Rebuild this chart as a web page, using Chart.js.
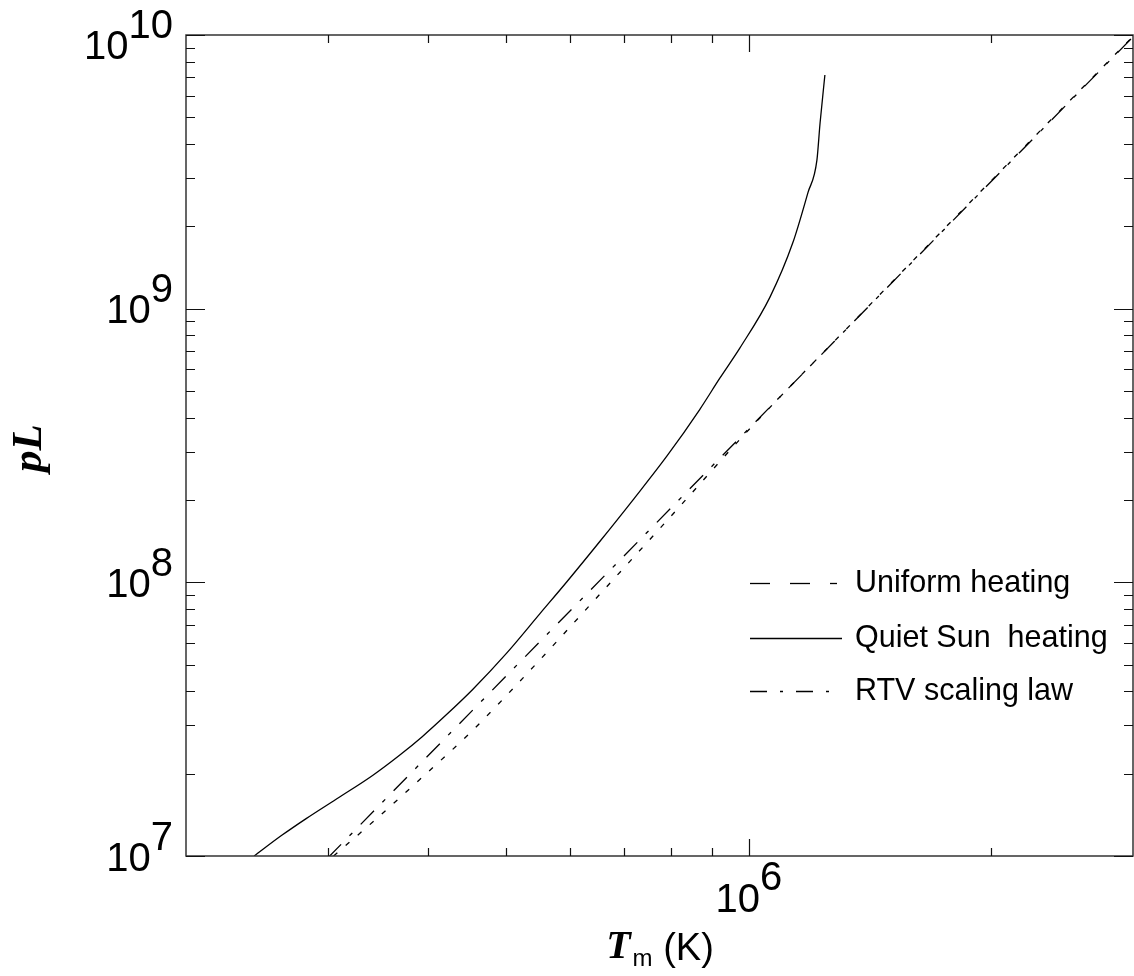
<!DOCTYPE html>
<html>
<head>
<meta charset="utf-8">
<script src="https://cdn.jsdelivr.net/npm/chart.js@4"></script>
<style>
  html, body { margin: 0; padding: 0; background: #fff; }
  canvas { display: block; }
</style>
</head>
<body>
<canvas id="loopChart" width="1134" height="976"></canvas>
<script>
// temperature (K) and pL
const quietT  = [2.43e5, 2.63e5, 2.82e5, 3.10e5, 3.41e5, 3.68e5, 3.93e5, 4.21e5, 4.54e5, 5.00e5, 5.50e5, 5.94e5,
                 6.53e5, 7.17e5, 7.91e5, 8.69e5, 9.20e5, 9.75e5, 1.062e6, 1.134e6, 1.184e6, 1.215e6, 1.226e6, 1.243e6];
const quietPL = [1.0e7, 1.19e7, 1.37e7, 1.64e7, 1.97e7, 2.33e7, 2.73e7, 3.28e7, 4.06e7, 5.50e7, 7.67e7, 1.003e8,
                 1.41e8, 1.99e8, 2.89e8, 4.28e8, 5.56e8, 7.19e8, 1.10e9, 1.74e9, 2.65e9, 3.49e9, 4.77e9, 7.14e9];

const uniformT  = [3.05e5, 3.45e5, 3.90e5, 4.54e5, 5.40e5, 6.53e5, 8.04e5, 1.0e6, 1.335e6, 2.05e6, 3.0e6];
const uniformPL = [1.0e7, 1.37e7, 1.90e7, 2.88e7, 4.91e7, 9.04e7, 1.77e8, 3.61e8, 8.69e8, 3.16e9, 9.89e9];

const rtvT  = [3.0e5, 3.0e6];
const rtvPL = [9.84e6, 9.84e9];

const legendLabels = ['Uniform heating', 'Quiet Sun  heating', 'RTV scaling law'];

const xMajorTicks = [1e6];
const xMajorExps = ['6'];
const xMinorTicks = [3e5, 4e5, 5e5, 6e5, 7e5, 8e5, 9e5, 2e6];
const yMajorTicks = [1e7, 1e8, 1e9, 1e10];
const yMajorExps = ['7', '8', '9', '10'];

const pts = (xs, ys) => xs.map((x, i) => ({ x: x, y: ys[i] }));

const SANS = '"Liberation Sans", Arial, sans-serif';
const SERIF = '"Liberation Serif", "Times New Roman", serif';

const uniformDash = [5, 11];
const rtvDash = [19, 12, 4, 12];

const idlAxes = {
    id: 'idlAxes',
    afterDraw(chart) {
        const ctx = chart.ctx;
        const xs = chart.scales.x, ys = chart.scales.y;
        const a = chart.chartArea;
        ctx.save();

        // frame
        ctx.strokeStyle = '#333';
        ctx.lineWidth = 1.5;
        ctx.strokeRect(a.left, a.top, a.right - a.left, a.bottom - a.top);

        // ticks
        ctx.lineWidth = 1.2;
        ctx.strokeStyle = '#111';
        ctx.beginPath();
        const xt = (v, len) => {
            const px = Math.round(xs.getPixelForValue(v)) + 0.5;
            ctx.moveTo(px, a.bottom); ctx.lineTo(px, a.bottom - len);
            ctx.moveTo(px, a.top); ctx.lineTo(px, a.top + len);
        };
        const yt = (v, len) => {
            const py = Math.round(ys.getPixelForValue(v)) + 0.5;
            ctx.moveTo(a.left, py); ctx.lineTo(a.left + len, py);
            ctx.moveTo(a.right, py); ctx.lineTo(a.right - len, py);
        };
        xMajorTicks.forEach(v => xt(v, 17));
        xMinorTicks.forEach(v => xt(v, 8));
        yMajorTicks.forEach(v => yt(v, 19));
        for (let d = 7; d < 10; d++) {
            for (let m = 2; m <= 9; m++) yt(m * Math.pow(10, d), 9);
        }
        ctx.stroke();

        // tick labels
        ctx.fillStyle = '#000';
        ctx.font = '40px ' + SANS;
        ctx.textBaseline = 'alphabetic';
        yMajorTicks.forEach((v, i) => {
            const py = ys.getPixelForValue(v);
            const exp = yMajorExps[i];
            const wb = ctx.measureText('10').width, we = ctx.measureText(exp).width;
            let base = py + 14.5;
            if (base - 21 - 29 < 9) base = 9 + 21 + 29;
            const right = a.left - 13;
            ctx.textAlign = 'left';
            ctx.fillText('10', right - we - wb, base);
            ctx.fillText(exp, right - we, base - 21);
        });
        xMajorTicks.forEach((v, i) => {
            const px = xs.getPixelForValue(v);
            const exp = xMajorExps[i];
            const wb = ctx.measureText('10').width, we = ctx.measureText(exp).width;
            const left = px - (wb + we) / 2;
            ctx.textAlign = 'left';
            ctx.fillText('10', left, 912);
            ctx.fillText(exp, left + wb, 890);
        });

        // x title
        ctx.font = 'bold italic 40px ' + SERIF;
        const wT = ctx.measureText('T').width;
        ctx.font = '24px ' + SANS;
        const wm = ctx.measureText('m').width;
        ctx.font = '38px ' + SANS;
        const wK = ctx.measureText(' (K)').width;
        let tx = 659 - (wT + wm + wK) / 2;
        ctx.font = 'bold italic 40px ' + SERIF;
        ctx.fillText('T', tx, 958);
        tx += wT + 2;
        ctx.font = '24px ' + SANS;
        ctx.fillText('m', tx, 966);
        tx += wm;
        ctx.font = '38px ' + SANS;
        ctx.fillText(' (K)', tx, 960);

        // y title
        ctx.save();
        ctx.translate(41, 448);
        ctx.rotate(-Math.PI / 2);
        ctx.font = 'bold italic 43px ' + SERIF;
        ctx.textAlign = 'center';
        ctx.fillText('pL', 0, 0);
        ctx.restore();

        // legend
        const legendDash = [[20, 20], [], [17, 13, 3, 13]];
        const legendEnd = [837, 842, 832];
        const rows = [583, 638, 691];
        ctx.lineWidth = 1.3;
        ctx.strokeStyle = '#000';
        legendLabels.forEach((lab, i) => {
            ctx.setLineDash(legendDash[i]);
            ctx.beginPath();
            ctx.moveTo(750, rows[i] + 0.5);
            ctx.lineTo(legendEnd[i], rows[i] + 0.5);
            ctx.stroke();
            ctx.setLineDash([]);
            ctx.font = '30.5px ' + SANS;
            ctx.textAlign = 'left';
            ctx.textBaseline = 'middle';
            ctx.fillText(lab, 855, rows[i] + 1);
        });
        ctx.restore();
    }
};

new Chart(document.getElementById('loopChart').getContext('2d'), {
    type: 'line',
    data: {
        datasets: [
            { label: legendLabels[0], data: pts(uniformT, uniformPL), borderDash: uniformDash, cubicInterpolationMode: 'monotone' },
            { label: legendLabels[1], data: pts(quietT, quietPL), cubicInterpolationMode: 'monotone' },
            { label: legendLabels[2], data: pts(rtvT, rtvPL), borderDash: rtvDash }
        ]
    },
    options: {
        responsive: false,
        animation: false,
        elements: {
            line: { borderColor: '#000', borderWidth: 1.3, fill: false },
            point: { radius: 0 }
        },
        layout: { padding: { left: 186, right: 1, top: 35, bottom: 120 } },
        scales: {
            x: { type: 'logarithmic', min: 2e5, max: 3e6, display: false },
            y: { type: 'logarithmic', min: 1e7, max: 1e10, display: false }
        },
        plugins: {
            legend: { display: false },
            tooltip: { enabled: false }
        }
    },
    plugins: [idlAxes]
});
</script>
</body>
</html>
